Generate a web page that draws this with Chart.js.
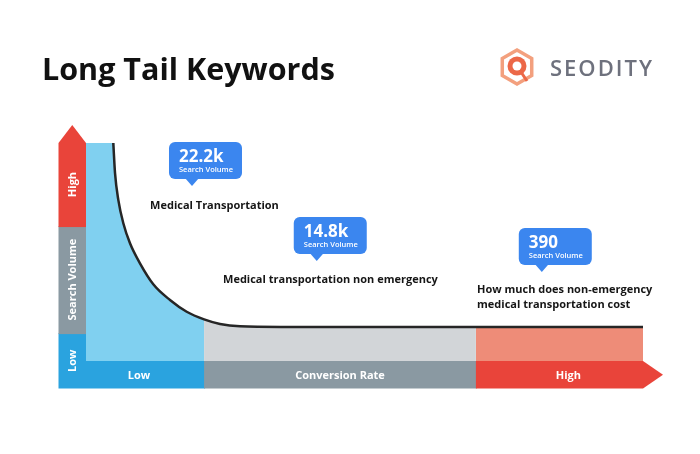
<!DOCTYPE html>
<html>
<head>
<meta charset="utf-8">
<script src="https://cdn.jsdelivr.net/npm/chart.js@4/dist/chart.umd.min.js"></script>
<style>
  html, body { margin: 0; padding: 0; background: #fff; }
  #wrap { width: 700px; height: 454px; }
</style>
</head>
<body>
<div id="wrap"><canvas id="tailChart" width="700" height="454"></canvas></div>
<script>
// curve (x = conversion rate, y = search volume, both 0-100)
const conversionRate = [4.9, 5.21, 5.8, 6.7, 7.9, 9.69, 12.08, 15.08, 18.08, 21.2, 24.06, 27.65, 35, 70, 100];
const searchVolume = [100, 86.2, 73.9, 63.2, 54.0, 44.8, 35.2, 28.0, 22.6, 19.1, 17.0, 15.9, 15.6, 15.6, 15.6];

// bands along each axis
const rateEdges = [0, 21.2, 70, 100];
const rateLabels = ['Low', 'Conversion Rate', 'High'];
const volumeEdges = [0, 12.8, 61.9, 100];
const volumeLabels = ['Low', 'Search Volume', 'High'];

// keywords and their volumes
const keywords = ['Medical Transportation', 'Medical transportation non emergency', 'How much does non-emergency\nmedical transportation cost'];
const volumes = ['22.2k', '14.8k', '390'];

const barColors = ['#2aa3df', '#8a99a2', '#e9443a'];
const fillColors = ['#80d0f0', '#d2d5d8', '#ee8c78'];

function bandPoints(i) {
    const pts = [];
    conversionRate.forEach((x, k) => {
        if (x >= rateEdges[i] && x <= rateEdges[i + 1]) pts.push({x: x, y: searchVolume[k]});
    });
    return pts;
}

const curve = conversionRate.map((x, k) => ({x: x, y: searchVolume[k]}));

const datasets = [{
    label: 'Curve',
    data: curve,
    borderColor: '#262626',
    borderWidth: 2.5,
    pointRadius: 0,
    fill: false,
    cubicInterpolationMode: 'monotone',
    order: 0
}];
fillColors.forEach((c, i) => {
    datasets.push({
        label: rateLabels[i],
        data: bandPoints(i),
        borderWidth: 0,
        borderColor: 'transparent',
        backgroundColor: c,
        pointRadius: 0,
        fill: 'origin',
        cubicInterpolationMode: 'monotone',
        order: 1
    });
});

const decorPlugin = {
    id: 'decor',
    beforeDatasetsDraw(chart) {
        // left strip of the first band, up to where the curve starts
        const {ctx, chartArea, scales} = chart;
        const x0 = scales.x.getPixelForValue(rateEdges[0]);
        const x1 = scales.x.getPixelForValue(conversionRate[0]);
        ctx.save();
        ctx.fillStyle = fillColors[0];
        ctx.fillRect(x0, chartArea.top, x1 - x0 + 1, chartArea.bottom - chartArea.top);
        ctx.restore();
    },
    afterDraw(chart, args, opts) {
        const {ctx, chartArea, scales} = chart;
        const xs = scales.x, ys = scales.y;
        const bar = 27.5;
        const font = (w, s) => w + ' ' + s + 'px "Open Sans", sans-serif';
        ctx.save();

        // horizontal axis bar
        const by = chartArea.bottom;
        for (let i = 0; i < rateLabels.length; i++) {
            const a = xs.getPixelForValue(rateEdges[i]);
            const b = xs.getPixelForValue(rateEdges[i + 1]);
            const last = i === rateLabels.length - 1;
            ctx.fillStyle = barColors[i];
            ctx.fillRect(a, by, b - a + (last ? 0 : 1), bar);
            if (last) {
                ctx.beginPath();
                ctx.moveTo(b, by);
                ctx.lineTo(b + 20, by + bar / 2);
                ctx.lineTo(b, by + bar);
                ctx.closePath();
                ctx.fill();
            }
            ctx.fillStyle = '#fff';
            ctx.font = font('bold', 11);
            ctx.textAlign = 'center';
            ctx.textBaseline = 'middle';
            let cx = (a + b) / 2;
            if (i === 0) cx -= 6;
            if (last) cx += 9;
            ctx.fillText(rateLabels[i], cx, by + bar / 2 + 1);
        }

        // vertical axis bar
        const bx = chartArea.left - bar;
        for (let i = 0; i < volumeLabels.length; i++) {
            const top = ys.getPixelForValue(volumeEdges[i + 1]);
            const bot = i === 0 ? by + bar : ys.getPixelForValue(volumeEdges[i]);
            ctx.fillStyle = barColors[i];
            ctx.fillRect(bx, top, bar, bot - top + (i === 0 ? 0 : 1));
            if (i === volumeLabels.length - 1) {
                ctx.beginPath();
                ctx.moveTo(bx, top);
                ctx.lineTo(bx + bar / 2, top - 18);
                ctx.lineTo(bx + bar, top);
                ctx.closePath();
                ctx.fill();
            }
            ctx.save();
            ctx.translate(bx + bar / 2 + 1, (top + bot) / 2);
            ctx.rotate(-Math.PI / 2);
            ctx.fillStyle = '#fff';
            ctx.font = font('bold', 11);
            ctx.textAlign = 'center';
            ctx.textBaseline = 'middle';
            ctx.fillText(volumeLabels[i], 0, 0);
            ctx.restore();
        }

        // callouts and keywords
        keywords.forEach((kw, i) => {
            const left = xs.getPixelForValue(opts.boxX[i]);
            const top = ys.getPixelForValue(opts.boxY[i]);
            const w = 73, h = 37;
            ctx.fillStyle = '#3b86ef';
            ctx.beginPath();
            ctx.roundRect(left, top, w, h, 6);
            ctx.fill();
            ctx.beginPath();
            ctx.moveTo(left + 16, top + h - 1);
            ctx.lineTo(left + 23, top + h + 7);
            ctx.lineTo(left + 30, top + h - 1);
            ctx.closePath();
            ctx.fill();
            ctx.fillStyle = '#fff';
            ctx.textAlign = 'left';
            ctx.textBaseline = 'alphabetic';
            ctx.font = font('bold', 17);
            ctx.fillText(volumes[i], left + 10, top + 20);
            ctx.font = font('600', 7.5);
            ctx.fillText('Search Volume', left + 10, top + 30);

            const lx = xs.getPixelForValue(opts.labelX[i]);
            const ly = ys.getPixelForValue(opts.labelY[i]);
            ctx.fillStyle = '#161616';
            ctx.font = font('bold', 11);
            ctx.textBaseline = 'middle';
            kw.split('\n').forEach((line, j) => ctx.fillText(line, lx, ly + j * 15));
        });

        // title
        ctx.fillStyle = '#111';
        ctx.font = font('bold', 30.5);
        ctx.textAlign = 'left';
        ctx.textBaseline = 'alphabetic';
        ctx.fillText('Long Tail Keywords', 42, 80);

        // logo
        const lcx = 517, lcy = 67;
        ctx.strokeStyle = '#f3a07e';
        ctx.lineWidth = 3.5;
        ctx.beginPath();
        for (let k = 0; k < 6; k++) {
            const ang = Math.PI / 6 + k * Math.PI / 3;
            const px = lcx + 17 * Math.cos(ang), py = lcy + 17 * Math.sin(ang);
            if (k === 0) ctx.moveTo(px, py); else ctx.lineTo(px, py);
        }
        ctx.closePath();
        ctx.stroke();
        ctx.fillStyle = '#ec6848';
        ctx.beginPath();
        ctx.arc(lcx, lcy - 1, 9.5, 0, Math.PI * 2);
        ctx.fill();
        ctx.fillStyle = '#fff';
        ctx.beginPath();
        ctx.arc(lcx, lcy - 1, 4.5, 0, Math.PI * 2);
        ctx.fill();
        ctx.strokeStyle = '#ec6848';
        ctx.lineWidth = 3;
        ctx.beginPath();
        ctx.moveTo(lcx + 4, lcy + 5);
        ctx.lineTo(lcx + 10, lcy + 14);
        ctx.stroke();
        ctx.fillStyle = '#6e717d';
        ctx.font = font('600', 22);
        ctx.letterSpacing = '2px';
        ctx.textBaseline = 'middle';
        ctx.fillText('SEODITY', 550, 70);

        ctx.restore();
    }
};

const chart = new Chart(document.getElementById('tailChart').getContext('2d'), {
    type: 'line',
    data: {datasets: datasets},
    options: {
        responsive: false,
        animation: false,
        layout: {padding: {left: 86, right: 57, top: 143, bottom: 93}},
        scales: {
            x: {type: 'linear', min: 0, max: 100, display: false},
            y: {min: 0, max: 100, display: false}
        },
        plugins: {
            legend: {display: false},
            tooltip: {enabled: false},
            decor: {
                boxX: [14.9, 37.3, 77.7],
                boxY: [100.5, 66.1, 61.0],
                labelX: [11.5, 24.6, 70.2],
                labelY: [71.1, 37.2, 32.6]
            }
        }
    },
    plugins: [decorPlugin]
});
</script>
</body>
</html>
